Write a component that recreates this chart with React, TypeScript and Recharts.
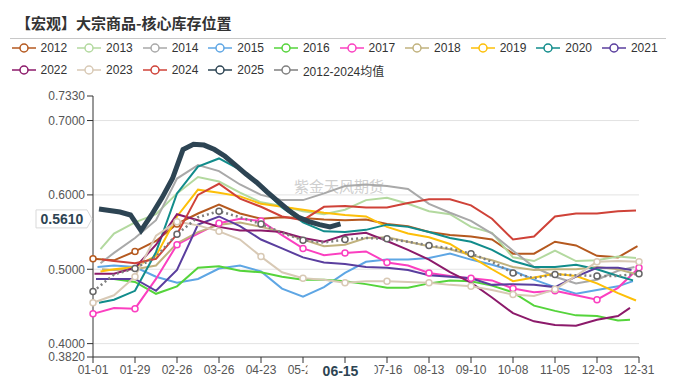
import { CartesianGrid, Line, LineChart, XAxis, YAxis } from "recharts"

// biweekly sample days (day of year, 0 = 01-01)
const days = [0, 14, 28, 42, 56, 70, 84, 98, 112, 126, 140, 154, 168, 182, 196, 210, 224, 238, 252, 266, 280, 294, 308, 322, 336, 350, 364]
const xTicks = [0, 28, 56, 84, 112, 140, 168, 196, 224, 252, 280, 308, 336, 364]
const yTicks = [0.382, 0.4, 0.5, 0.6, 0.7, 0.733]

const y2012 = [0.514, 0.512, 0.524, 0.538, 0.561, 0.575, 0.587, 0.575, 0.568, 0.570, 0.569, 0.567, 0.566, 0.567, 0.561, 0.558, 0.550, 0.546, 0.544, 0.540, 0.521, 0.521, 0.537, 0.532, 0.518, 0.516, 0.531]
const y2013 = [0.527, 0.548, 0.563, 0.574, 0.602, 0.624, 0.618, 0.603, 0.590, 0.585, 0.578, 0.574, 0.580, 0.593, 0.596, 0.588, 0.578, 0.574, 0.557, 0.549, 0.516, 0.511, 0.525, 0.511, 0.512, 0.517, 0.515]
const y2014 = [0.508, 0.522, 0.542, 0.566, 0.622, 0.640, 0.632, 0.614, 0.600, 0.593, 0.593, 0.602, 0.612, 0.614, 0.612, 0.608, 0.588, 0.576, 0.565, 0.548, 0.525, 0.503, 0.490, 0.481, 0.486, 0.498, 0.503]
const y2015 = [0.503, 0.505, 0.503, 0.490, 0.482, 0.487, 0.501, 0.505, 0.497, 0.474, 0.463, 0.476, 0.495, 0.510, 0.513, 0.513, 0.515, 0.521, 0.513, 0.506, 0.498, 0.486, 0.476, 0.467, 0.472, 0.477, 0.484]
const y2016 = [0.487, 0.487, 0.483, 0.467, 0.477, 0.502, 0.504, 0.498, 0.496, 0.490, 0.486, 0.486, 0.484, 0.480, 0.475, 0.475, 0.481, 0.485, 0.484, 0.478, 0.469, 0.451, 0.444, 0.438, 0.437, 0.431, 0.432]
const y2017 = [0.440, 0.448, 0.447, 0.487, 0.533, 0.548, 0.562, 0.568, 0.565, 0.546, 0.528, 0.519, 0.522, 0.524, 0.509, 0.505, 0.495, 0.491, 0.488, 0.485, 0.474, 0.469, 0.471, 0.465, 0.459, 0.475, 0.502]
const y2018 = [0.500, 0.499, 0.500, 0.505, 0.535, 0.550, 0.560, 0.563, 0.557, 0.550, 0.540, 0.531, 0.533, 0.542, 0.543, 0.537, 0.531, 0.527, 0.519, 0.512, 0.503, 0.499, 0.500, 0.500, 0.503, 0.500, 0.493]
const y2019 = [0.497, 0.500, 0.503, 0.518, 0.571, 0.607, 0.603, 0.598, 0.588, 0.584, 0.580, 0.576, 0.573, 0.571, 0.557, 0.548, 0.543, 0.534, 0.517, 0.500, 0.484, 0.489, 0.494, 0.491, 0.481, 0.468, 0.458]
const y2020 = [0.455, 0.459, 0.471, 0.523, 0.602, 0.638, 0.649, 0.634, 0.610, 0.583, 0.563, 0.551, 0.550, 0.553, 0.560, 0.557, 0.550, 0.542, 0.537, 0.526, 0.511, 0.503, 0.503, 0.506, 0.500, 0.491, 0.485]
const y2021 = [0.487, 0.487, 0.487, 0.471, 0.499, 0.560, 0.571, 0.558, 0.540, 0.528, 0.516, 0.509, 0.507, 0.503, 0.502, 0.499, 0.492, 0.490, 0.488, 0.479, 0.480, 0.479, 0.476, 0.490, 0.502, 0.502, 0.499]
const y2022 = [0.494, 0.494, 0.502, 0.533, 0.574, 0.566, 0.557, 0.552, 0.552, 0.550, 0.542, 0.537, 0.546, 0.549, 0.538, 0.526, 0.513, 0.496, 0.482, 0.462, 0.441, 0.430, 0.425, 0.424, 0.432, 0.437, 0.448]
const y2023 = [0.455, 0.465, 0.490, 0.545, 0.564, 0.559, 0.551, 0.540, 0.517, 0.496, 0.488, 0.486, 0.482, 0.484, 0.484, 0.483, 0.482, 0.479, 0.477, 0.472, 0.466, 0.464, 0.473, 0.491, 0.510, 0.511, 0.510]
const y2024 = [0.513, 0.511, 0.508, 0.514, 0.547, 0.600, 0.615, 0.595, 0.584, 0.571, 0.566, 0.584, 0.585, 0.583, 0.583, 0.589, 0.594, 0.594, 0.586, 0.568, 0.540, 0.544, 0.571, 0.575, 0.575, 0.578, 0.579]
const yAvg = [0.470, 0.493, 0.501, 0.517, 0.547, 0.570, 0.578, 0.570, 0.561, 0.549, 0.539, 0.536, 0.540, 0.542, 0.541, 0.537, 0.532, 0.528, 0.521, 0.510, 0.495, 0.488, 0.493, 0.492, 0.491, 0.491, 0.494]

// 2025: weekly, up to 06-15
const days2025 = [4, 11, 18, 25, 32, 39, 46, 53, 60, 67, 74, 81, 88, 95, 102, 109, 116, 123, 130, 137, 144, 151, 158, 165]
const y2025 = [0.581, 0.579, 0.577, 0.573, 0.552, 0.573, 0.596, 0.622, 0.661, 0.668, 0.667, 0.661, 0.652, 0.640, 0.628, 0.617, 0.604, 0.592, 0.580, 0.570, 0.564, 0.560, 0.557, 0.561]

const latestDay = 165
const latestValue = 0.561

const W = 676
const H = 381
const plot = { left: 93, right: 639, top: 96, bottom: 357 }
const yMin = 0.382
const yMax = 0.733

type Series = {
  name: string
  color: string
  values: number[]
  first?: number
  last?: number
  marks?: number[]
  width?: number
  dash?: string
  own?: number[]
}

const series: Series[] = [
  { name: "2012", color: "#b5591f", values: y2012, first: 0, last: 363, marks: [0, 28, 56] },
  { name: "2013", color: "#b3d99f", values: y2013, first: 5, last: 362 },
  { name: "2014", color: "#a9a9a9", values: y2014, first: 5, last: 361 },
  { name: "2015", color: "#5ea6e4", values: y2015, first: 3, last: 360 },
  { name: "2016", color: "#55d43b", values: y2016, first: 2, last: 358 },
  { name: "2017", color: "#fb3fc0", values: y2017, first: 0, last: 364, marks: xTicks },
  { name: "2018", color: "#c1b27e", values: y2018, first: 6, last: 363 },
  { name: "2019", color: "#fdbf08", values: y2019, first: 5, last: 362 },
  { name: "2020", color: "#118c8b", values: y2020, first: 4, last: 360 },
  { name: "2021", color: "#5a3e9e", values: y2021, first: 2, last: 359 },
  { name: "2022", color: "#8c1a6a", values: y2022, first: 1, last: 358 },
  { name: "2023", color: "#d8c9b5", values: y2023, first: 0, last: 364, marks: xTicks },
  { name: "2024", color: "#cf4238", values: y2024, first: 6, last: 362 },
  { name: "2025", color: "#2d4453", values: y2025, own: days2025, width: 5 },
  { name: "2012-2024均值", color: "#7f7f7f", values: yAvg, first: 0, last: 364, marks: xTicks, dash: "2 3", width: 2.5 },
]

const toRows = (s: Series) =>
  s.values.map((v, i) => {
    let d = s.own ? s.own[i] : days[i]
    if (!s.own && i === 0 && s.first !== undefined) d = s.first
    if (!s.own && i === s.values.length - 1 && s.last !== undefined) d = s.last
    return { d, v }
  })

const fmtDay = (d: number) => {
  const dt = new Date(Date.UTC(2023, 0, 1 + d))
  const mm = String(dt.getUTCMonth() + 1).padStart(2, "0")
  const dd = String(dt.getUTCDate()).padStart(2, "0")
  return `${mm}-${dd}`
}

const dotFor = (s: Series) => (props: any) => {
  const { cx, cy, payload, index } = props
  const key = `${s.name}-${index}`
  if (!s.marks || !payload || !s.marks.includes(payload.d)) return <g key={key} />
  return (
    <circle key={key} cx={cx} cy={cy} r={3} fill="#fff" stroke={s.dash ? "#666" : s.color} strokeWidth={1.5} />
  )
}

const font = "'Liberation Sans', 'Noto Sans CJK SC', sans-serif"

export default function App() {
  const px = plot.left + (latestDay / 364) * (plot.right - plot.left)
  const py = plot.top + ((yMax - latestValue) / (yMax - yMin)) * (plot.bottom - plot.top) - 5

  return (
    <div style={{ position: "relative", width: W, height: H, background: "#fff", fontFamily: font, overflow: "hidden" }}>
      <style>{"body{margin:0}"}</style>
      <div
        style={{
          position: "absolute",
          left: 16,
          top: 13,
          fontSize: 15,
          lineHeight: "20px",
          fontWeight: 700,
          color: "#333",
          fontFamily: "'Noto Sans CJK SC', sans-serif",
        }}
      >
        【宏观】大宗商品-核心库存位置
      </div>
      <div style={{ position: "absolute", left: 10, top: 38, width: 656, height: 1, background: "#c8c8c8" }} />

      {series.map((s, i) => {
        const row = i < 10 ? 0 : 1
        const col = i % 10
        return (
          <div
            key={s.name}
            style={{
              position: "absolute",
              left: 11.5 + col * 65.6,
              top: row === 0 ? 41 : 63,
              height: 14,
              display: "flex",
              alignItems: "center",
            }}
          >
            <svg width={24} height={14}>
              <line x1={0} y1={7} x2={24} y2={7} stroke={s.color} strokeWidth={1.5} />
              <circle cx={12} cy={7} r={4} fill="#fff" stroke={s.color} strokeWidth={1.5} />
            </svg>
            <span style={{ marginLeft: 5, fontSize: 12, color: "#333", whiteSpace: "nowrap" }}>{s.name}</span>
          </div>
        )
      })}

      <div
        style={{
          position: "absolute",
          left: 294,
          top: 175,
          fontSize: 15,
          color: "#cfcfcf",
          fontFamily: "'Noto Sans CJK SC', sans-serif",
          whiteSpace: "nowrap",
        }}
      >
        紫金天风期货
      </div>

      <div style={{ position: "absolute", left: 0, top: 0 }}>
        <LineChart width={W} height={H} margin={{ top: plot.top, right: W - plot.right, bottom: 0, left: 0 }}>
          <CartesianGrid vertical={false} horizontalValues={[0.4, 0.5, 0.6, 0.7]} stroke="#e3e3e3" />
          <XAxis
            dataKey="d"
            type="number"
            domain={[0, 364]}
            ticks={xTicks}
            interval={0}
            tickFormatter={fmtDay}
            height={H - plot.bottom}
            stroke="#333"
            tick={{ fontSize: 12, fill: "#555", fontFamily: font }}
            allowDuplicatedCategory={false}
          />
          <YAxis
            type="number"
            domain={[yMin, yMax]}
            ticks={yTicks}
            interval={0}
            width={plot.left}
            stroke="#333"
            tickFormatter={(v: number) => v.toFixed(4)}
            tick={{ fontSize: 12, fill: "#555", fontFamily: font }}
          />
          {series.map((s) => (
            <Line
              key={s.name}
              data={toRows(s)}
              dataKey="v"
              name={s.name}
              type="linear"
              stroke={s.color}
              strokeWidth={s.width ?? 2}
              strokeDasharray={s.dash}
              dot={dotFor(s)}
              activeDot={false}
              isAnimationActive={false}
            />
          ))}
        </LineChart>
      </div>

      {/* axis pointer labels for the latest 2025 reading */}
      <svg width={W} height={H} style={{ position: "absolute", left: 0, top: 0, pointerEvents: "none" }}>
        <path
          d={`M36,${py - 9} H87 L92,${py} L87,${py + 9} H36 Z`}
          fill="#fff"
          stroke="#d9d9d9"
          strokeWidth={1}
        />
        <text x={62} y={py} dy="0.35em" textAnchor="middle" fontSize={14} fontWeight={700} fill="#2d4453" fontFamily={font}>
          {latestValue.toFixed(4)}
        </text>
        <rect x={px - 33} y={363} width={67} height={18} fill="#fff" />
        <text x={px} y={371} dy="0.35em" textAnchor="middle" fontSize={14} fontWeight={700} fill="#2d4453" fontFamily={font}>
          {fmtDay(latestDay)}
        </text>
      </svg>
    </div>
  )
}
